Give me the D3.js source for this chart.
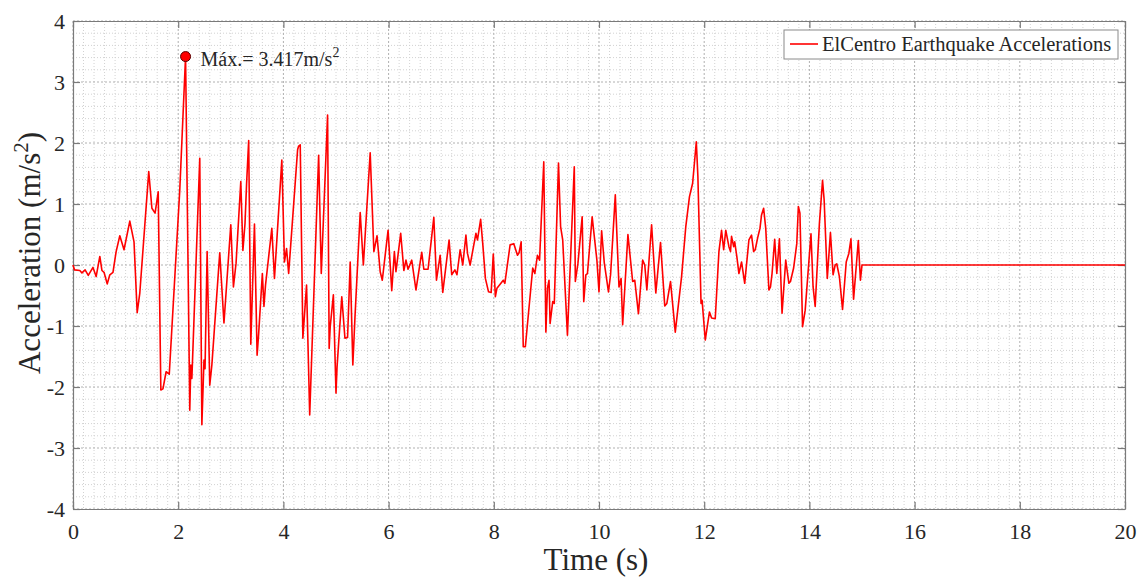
<!DOCTYPE html>
<html>
<head>
<meta charset="UTF-8">
<style>
  body { margin: 0; background: #fff; }
  text { font-family: "Liberation Serif", "Times New Roman", serif; fill: #262626; }
</style>
</head>
<body>
<svg></svg>
<script src="https://d3js.org/d3.v7.min.js"></script>
<script>

// El Centro record, vertices (s, m/s^2)
const timeSec = [0.00,0.03,0.13,0.17,0.23,0.29,0.38,0.44,0.51,0.55,0.59,0.65,0.70,0.76,0.82,0.89,0.97,1.08,1.16,1.22,1.27,1.44,1.50,1.56,1.62,1.67,1.71,1.77,1.83,2.03,2.14,2.22,2.24,2.26,2.41,2.45,2.49,2.51,2.55,2.60,2.64,2.79,2.87,3.00,3.05,3.10,3.19,3.23,3.27,3.30,3.34,3.38,3.45,3.50,3.53,3.60,3.63,3.66,3.78,3.83,3.97,4.02,4.06,4.10,4.27,4.29,4.32,4.37,4.44,4.50,4.67,4.72,4.84,4.87,4.89,4.95,5.00,5.02,5.11,5.17,5.22,5.27,5.32,5.36,5.46,5.52,5.65,5.72,5.78,5.84,5.88,5.99,6.06,6.11,6.14,6.23,6.29,6.33,6.37,6.44,6.52,6.63,6.67,6.75,6.86,6.91,6.98,7.03,7.15,7.20,7.26,7.30,7.36,7.41,7.47,7.50,7.55,7.66,7.69,7.75,7.79,7.84,7.90,7.95,7.99,8.03,8.06,8.18,8.21,8.31,8.38,8.45,8.48,8.52,8.56,8.60,8.74,8.78,8.83,8.87,8.95,8.99,9.02,9.05,9.07,9.12,9.15,9.23,9.27,9.31,9.40,9.53,9.55,9.60,9.68,9.71,9.75,9.78,9.87,9.96,10.00,10.05,10.10,10.18,10.22,10.31,10.38,10.42,10.45,10.55,10.64,10.68,10.75,10.83,10.87,10.91,11.00,11.08,11.17,11.25,11.29,11.36,11.45,11.57,11.65,11.72,11.78,11.85,11.88,11.94,11.96,12.02,12.10,12.14,12.21,12.28,12.33,12.37,12.41,12.47,12.50,12.52,12.56,12.58,12.62,12.66,12.71,12.77,12.85,12.90,12.94,12.97,13.02,13.06,13.09,13.13,13.17,13.23,13.26,13.29,13.34,13.38,13.43,13.48,13.55,13.61,13.64,13.70,13.76,13.79,13.82,13.87,13.92,14.03,14.07,14.11,14.19,14.25,14.28,14.34,14.40,14.45,14.49,14.52,14.57,14.63,14.70,14.75,14.79,14.84,14.93,14.97,15.00,20.00];
const accel = [0.00,-0.08,-0.09,-0.13,-0.08,-0.17,-0.04,-0.19,0.14,-0.09,-0.12,-0.31,-0.16,-0.12,0.22,0.48,0.25,0.72,0.38,-0.78,-0.46,1.53,0.93,0.85,1.20,-2.05,-2.03,-1.75,-1.79,1.23,3.417,-2.38,-1.64,-1.86,1.75,-2.62,-1.56,-1.70,0.22,-1.97,-1.64,0.20,-0.95,0.66,-0.36,0.03,1.37,0.24,0.68,1.33,2.04,-1.30,0.67,-1.48,-1.12,-0.14,-0.68,-0.33,0.60,-0.22,1.72,0.05,0.27,-0.14,1.89,1.95,1.97,-1.20,-0.33,-2.46,1.80,-0.14,2.46,-1.37,-1.01,-0.49,-2.10,-1.67,-0.52,-1.20,-1.19,0.05,-1.64,-0.87,0.86,0.00,1.84,0.22,0.48,-0.11,-0.25,0.57,-0.42,0.22,-0.11,0.52,-0.09,0.08,-0.07,0.08,-0.41,0.21,-0.07,-0.07,0.78,-0.25,0.16,-0.45,0.41,-0.16,-0.08,-0.16,0.25,0.00,0.49,0.19,0.00,0.52,0.41,0.75,0.35,-0.22,-0.44,-0.45,0.18,-0.52,-0.38,-0.25,-0.30,0.33,0.35,0.16,0.20,0.38,-1.34,-1.34,-0.05,-0.14,0.16,0.08,1.69,-1.10,-0.38,-0.25,-0.96,-0.60,-0.63,1.67,0.63,0.41,-1.15,1.61,-0.27,0.03,0.79,-0.60,-0.16,-0.14,0.79,0.08,-0.44,0.56,0.04,-0.44,-0.16,1.15,-0.36,-0.22,-0.98,0.50,-0.27,-0.25,-0.80,0.08,0.00,-0.41,0.66,-0.46,0.37,-0.67,-0.63,-0.27,-1.10,-0.19,0.63,1.12,1.34,2.02,1.45,-0.63,-0.58,-1.23,-0.77,-0.87,-0.88,0.22,0.57,0.25,0.57,0.30,0.22,0.47,0.30,0.38,0.14,-0.14,0.05,-0.30,0.41,0.49,0.22,0.25,0.46,0.60,0.82,0.93,0.60,-0.41,-0.36,-0.14,0.42,-0.14,0.43,-0.79,0.08,-0.30,-0.27,-0.05,0.35,0.96,0.85,-1.01,-0.74,0.51,-0.36,-0.68,0.68,1.39,1.07,-0.22,0.53,-0.16,0.00,0.02,-0.19,-0.73,0.05,0.19,0.43,-0.56,0.40,-0.25,0.00,0.00];

const xTicks = [0, 2, 4, 6, 8, 10, 12, 14, 16, 18, 20];
const yTicks = [-4, -3, -2, -1, 0, 1, 2, 3, 4];
const peakTime = 2.14, peakAccel = 3.417;
const seriesName = "ElCentro Earthquake Accelerations";

let width = 1140, height = 577;
let margin = {top: 21, right: 15, bottom: 68, left: 73};
let iw = width - margin.left - margin.right,
    ih = height - margin.top - margin.bottom;

let svg = d3.select("svg").attr("width", width).attr("height", height);
let g = svg.append("g").attr("transform", `translate(${margin.left},${margin.top})`);

let x = d3.scaleLinear().domain([0, 20]).range([0, iw]);
let y = d3.scaleLinear().domain([-4, 4]).range([ih, 0]);

// minor grid every 0.2
let minorX = d3.range(0, 20.001, 0.2).filter(v => Math.abs(v / 2 - Math.round(v / 2)) > 1e-6);
let minorY = d3.range(-4, 4.001, 0.2).filter(v => Math.abs(v - Math.round(v)) > 1e-6);

g.append("g").selectAll("line").data(minorX).enter().append("line")
  .attr("x1", d => x(d)).attr("x2", d => x(d)).attr("y1", 0).attr("y2", ih)
  .attr("stroke", "#d2d2d2").attr("stroke-dasharray", "1,2");
g.append("g").selectAll("line").data(minorY).enter().append("line")
  .attr("y1", d => y(d)).attr("y2", d => y(d)).attr("x1", 0).attr("x2", iw)
  .attr("stroke", "#d2d2d2").attr("stroke-dasharray", "1,2");

// major grid
g.append("g").selectAll("line").data(xTicks).enter().append("line")
  .attr("x1", d => x(d)).attr("x2", d => x(d)).attr("y1", 0).attr("y2", ih)
  .attr("stroke", "#b0b0b0").attr("stroke-dasharray", "2,2");
g.append("g").selectAll("line").data(yTicks).enter().append("line")
  .attr("y1", d => y(d)).attr("y2", d => y(d)).attr("x1", 0).attr("x2", iw)
  .attr("stroke", "#b0b0b0").attr("stroke-dasharray", "2,2");

// axes (ticks inward, box on)
function styleAxis(sel) {
  sel.select(".domain").attr("stroke", "#7a7a7a").attr("stroke-width", 1.2);
  sel.selectAll(".tick line").attr("stroke", "#7a7a7a").attr("stroke-width", 1.2);
  sel.selectAll("text").style("font-size", "22px").attr("fill", "#262626")
    .style("font-family", '"Liberation Serif", serif');
}
let plainNum = d => String(d);   // hyphen minus, like the original
g.append("g").attr("transform", `translate(0,${ih})`)
  .call(d3.axisBottom(x).tickValues(xTicks).tickSize(-7).tickSizeOuter(0).tickPadding(14).tickFormat(plainNum))
  .call(styleAxis);
g.append("g")
  .call(d3.axisLeft(y).tickValues(yTicks).tickSize(-7).tickSizeOuter(0).tickPadding(8).tickFormat(plainNum))
  .call(styleAxis);
g.append("g")
  .call(d3.axisTop(x).tickValues(xTicks).tickSize(-7).tickSizeOuter(0).tickFormat(""))
  .call(styleAxis);
g.append("g").attr("transform", `translate(${iw},0)`)
  .call(d3.axisRight(y).tickValues(yTicks).tickSize(-7).tickSizeOuter(0).tickFormat(""))
  .call(styleAxis);

// signal
let pts = timeSec.map((t, i) => ({t: t, a: accel[i]}));
let line = d3.line().x(d => x(d.t)).y(d => y(d.a));
g.append("path").datum(pts)
  .attr("d", line)
  .attr("fill", "none")
  .attr("stroke", "#ff0000")
  .attr("stroke-width", 1.6)
  .attr("stroke-linejoin", "round");

// peak marker
g.append("circle")
  .attr("cx", x(peakTime)).attr("cy", y(peakAccel)).attr("r", 5)
  .attr("fill", "#ff0000").attr("stroke", "#5a0000").attr("stroke-width", 1);

let ann = g.append("text")
  .attr("x", x(peakTime) + 15).attr("y", y(peakAccel) + 9)
  .style("font-size", "20px");
ann.append("tspan").text("Máx.= " + peakAccel.toFixed(3) + "m/s");
ann.append("tspan").attr("dy", -9).style("font-size", "14px").text("2");

// legend
let lg = g.append("g").attr("transform", `translate(${iw - 341},9)`);
lg.append("rect").attr("width", 334).attr("height", 29)
  .attr("fill", "#fff").attr("stroke", "#8a8a8a").attr("stroke-width", 1);
lg.append("line").attr("x1", 6).attr("x2", 34).attr("y1", 14).attr("y2", 14)
  .attr("stroke", "#ff0000").attr("stroke-width", 1.6);
lg.append("text").attr("x", 38).attr("y", 21).style("font-size", "20.5px").text(seriesName);

// axis labels
svg.append("text")
  .attr("x", margin.left + iw / 2 - 3).attr("y", 570)
  .attr("text-anchor", "middle")
  .style("font-size", "31px")
  .text("Time (s)");

let yl = svg.append("text")
  .attr("transform", `translate(40,${margin.top + ih / 2 - 12}) rotate(-90)`)
  .attr("text-anchor", "middle")
  .style("font-size", "31px");
yl.append("tspan").text("Acceleration (m/s");
yl.append("tspan").attr("dy", -12).style("font-size", "21px").text("2");
yl.append("tspan").attr("dy", 12).text(")");

</script>
</body>
</html>
